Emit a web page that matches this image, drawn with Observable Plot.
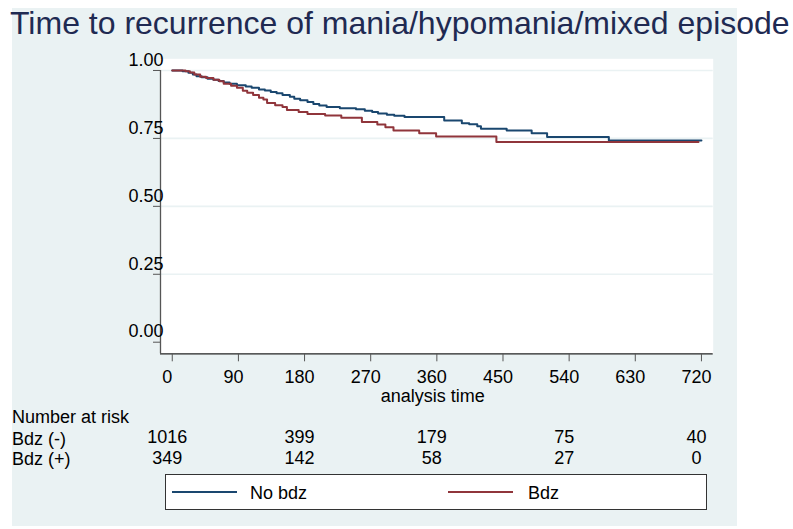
<!DOCTYPE html>
<html><head><meta charset="utf-8">
<script src="https://cdn.jsdelivr.net/npm/d3@7"></script>
<script src="https://cdn.jsdelivr.net/npm/@observablehq/plot@0.6"></script>
<style>
body{margin:0;background:#fff;font-family:"Liberation Sans",Arial,sans-serif;}
#wrap{position:relative;width:793px;height:529px;overflow:hidden;background:#fff;}
#panel{position:absolute;left:12px;top:8px;width:725px;height:518px;background:#eaf2f3;}
#title{position:absolute;left:10px;top:6.5px;font-size:32px;line-height:1;color:#1f2a52;white-space:nowrap;}
.lbl{position:absolute;left:12px;font-size:18px;line-height:1;color:#000;white-space:nowrap;}
#chart{position:absolute;left:0;top:0;}
#legend{position:absolute;left:165px;top:474px;width:540px;height:34px;border:1px solid #333;background:#fff;}
.sw{position:absolute;top:16px;width:65px;height:0;border-top:2px solid;}
.lt{position:absolute;top:9px;font-size:18px;line-height:1;color:#000;white-space:nowrap;}
</style>
</head><body>
<div id="wrap">
  <div id="panel"></div>
  <div id="chart"></div>
  <div id="title"></div>
  <div class="lbl" id="riskHead" style="top:408px"></div>
  <div class="lbl" id="row0" style="top:429.5px"></div>
  <div class="lbl" id="row1" style="top:450px"></div>
  <div id="legend"></div>
</div>
<script>
const titleText = "Time to recurrence of mania/hypomania/mixed episode";
const xLabel = "analysis time";
const seriesNames = ["No bdz", "Bdz"];
const seriesColors = ["#1a476f", "#90353b"];
const riskHeader = "Number at risk";
const riskRowLabels = ["Bdz (-)", "Bdz (+)"];
const riskTimes = [0, 180, 360, 540, 720];
const riskNoBdz = [1016, 399, 179, 75, 40];
const riskBdz = [349, 142, 58, 27, 0];
const xTicks = [0, 90, 180, 270, 360, 450, 540, 630, 720];
const yTicks = [0, 0.25, 0.5, 0.75, 1];
const gridTicks = [0.25, 0.5, 0.75, 1];

// Kaplan-Meier step estimates (time, survival)
const noBdzTime = [0, 14, 22, 28, 33, 40, 48, 56, 63, 70, 78, 88, 100, 108, 118, 126, 134, 142, 150, 160, 166, 174, 184, 192, 200, 210, 228, 250, 262, 272, 280, 292, 302, 316, 370, 394, 404, 415, 420, 455, 489, 510, 594, 720];
const noBdzSurv = [1.000, 0.997, 0.992, 0.985, 0.979, 0.975, 0.970, 0.966, 0.961, 0.956, 0.951, 0.946, 0.941, 0.936, 0.930, 0.926, 0.921, 0.916, 0.910, 0.903, 0.896, 0.890, 0.884, 0.877, 0.871, 0.866, 0.861, 0.857, 0.852, 0.847, 0.842, 0.837, 0.833, 0.829, 0.816, 0.806, 0.802, 0.795, 0.786, 0.779, 0.769, 0.755, 0.742, 0.742];
const bdzTime = [0, 18, 24, 30, 38, 46, 56, 64, 70, 80, 88, 96, 102, 110, 118, 124, 129, 140, 150, 156, 172, 184, 208, 230, 258, 279, 290, 301, 336, 359, 441, 716];
const bdzSurv = [1.000, 0.997, 0.993, 0.985, 0.977, 0.972, 0.966, 0.960, 0.951, 0.944, 0.936, 0.925, 0.918, 0.910, 0.900, 0.893, 0.880, 0.872, 0.866, 0.855, 0.847, 0.840, 0.834, 0.826, 0.810, 0.801, 0.791, 0.779, 0.769, 0.757, 0.737, 0.737];

const xDomain = [-16, 736];
const yDomain = [-0.0427, 1.043];

const km = [
  ...noBdzTime.map((t, i) => ({t, s: noBdzSurv[i], g: seriesNames[0]})),
  ...bdzTime.map((t, i) => ({t, s: bdzSurv[i], g: seriesNames[1]}))
];
const risk = [
  ...riskTimes.map((t, i) => ({t, n: String(riskNoBdz[i]), row: 0})),
  ...riskTimes.map((t, i) => ({t, n: String(riskBdz[i]), row: 1}))
];

const font = "Liberation Sans, Arial, sans-serif";
const chart = Plot.plot({
  width: 793, height: 529,
  marginLeft: 160, marginRight: 80.3, marginTop: 58.3, marginBottom: 175.7,
  style: {background: "transparent", fontFamily: font, fontSize: "18px", color: "#000"},
  x: {domain: xDomain},
  y: {domain: yDomain},
  color: {domain: seriesNames, range: seriesColors},
  marks: [
    Plot.frame({fill: "white", stroke: "none"}),
    Plot.gridY(gridTicks, {stroke: "#eaf2f3", strokeOpacity: 1, strokeWidth: 1.6}),
    Plot.line(km, {x: "t", y: "s", z: "g", stroke: "g", curve: "step-after", strokeWidth: 2}),
    Plot.ruleY([yDomain[0]], {stroke: "#222", strokeWidth: 1.3}),
    Plot.ruleX([xDomain[0]], {y1: yDomain[0], y2: 1, stroke: "#555", strokeWidth: 1.3}),
    Plot.axisX(xTicks, {tickSize: 8, fill: "none", stroke: "#555", label: null}),
    Plot.axisX(xTicks, {tickSize: 0, tickPadding: 16.5, dx: -5, label: null, fontSize: 18, fill: "#000"}),
    Plot.axisY(yTicks, {tickSize: 7, fill: "none", stroke: "#555", label: null}),
    Plot.axisY(yTicks, {tickSize: 0, tickPadding: -3, dy: -10.5, tickFormat: d3.format(".2f"), label: null, fontSize: 18, fill: "#000"}),
    Plot.text([xLabel], {frameAnchor: "bottom", dy: 48, dx: -4, fontSize: 18, fill: "#000"}),
    Plot.text(risk.filter(d => d.row === 0), {x: "t", text: "n", frameAnchor: "bottom", dy: 89.5, dx: -5, fontSize: 18, fill: "#000"}),
    Plot.text(risk.filter(d => d.row === 1), {x: "t", text: "n", frameAnchor: "bottom", dy: 110, dx: -5, fontSize: 18, fill: "#000"})
  ]
});
document.getElementById("chart").appendChild(chart);
document.getElementById("title").textContent = titleText;
document.getElementById("riskHead").textContent = riskHeader;
document.getElementById("row0").textContent = riskRowLabels[0];
document.getElementById("row1").textContent = riskRowLabels[1];

const legend = document.getElementById("legend");
const legendPos = [[6, 84], [282, 362]];
seriesNames.forEach((name, i) => {
  const sw = document.createElement("div");
  sw.className = "sw";
  sw.style.left = legendPos[i][0] + "px";
  sw.style.borderTopColor = seriesColors[i];
  legend.appendChild(sw);
  const lt = document.createElement("div");
  lt.className = "lt";
  lt.style.left = legendPos[i][1] + "px";
  lt.textContent = name;
  legend.appendChild(lt);
});
</script>
</body></html>
